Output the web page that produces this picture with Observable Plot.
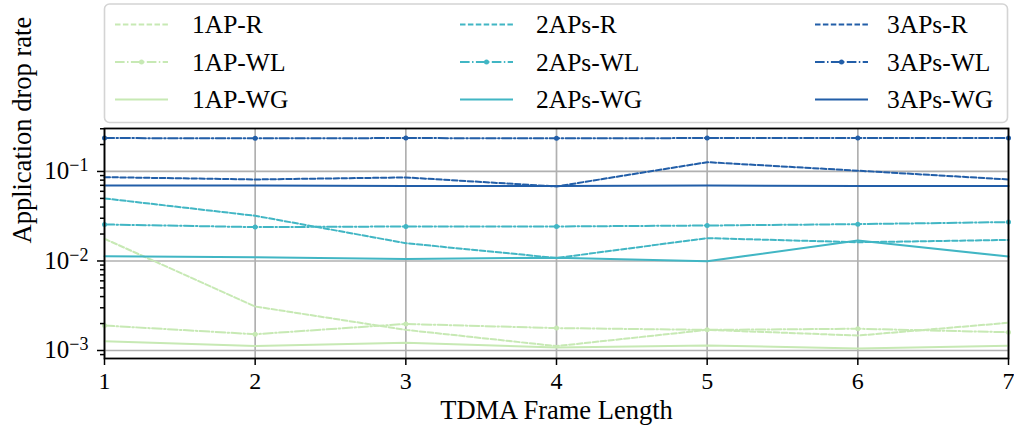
<!DOCTYPE html>
<html>
<head>
<meta charset="utf-8">
<script src="https://cdn.jsdelivr.net/npm/d3@7"></script>
<script src="https://cdn.jsdelivr.net/npm/@observablehq/plot@0.6"></script>
<style>
  html, body { margin: 0; padding: 0; background: white; }
  #wrap { width: 1014px; height: 434px; overflow: hidden; font-family: "Liberation Serif", "DejaVu Serif", serif; }
  #wrap svg { display: block; }
  #wrap svg text, #wrap svg tspan { font-family: "Liberation Serif", "DejaVu Serif", serif !important; }
</style>
</head>
<body>
<div id="wrap"></div>
<script>
// ---- data ----
const frameLengths = [1, 2, 3, 4, 5, 6, 7];
const seriesNames = ["1AP-R", "1AP-WL", "1AP-WG", "2APs-R", "2APs-WL", "2APs-WG", "3APs-R", "3APs-WL", "3APs-WG"];
const ap1R  = [0.0177, 0.0031, 0.0017, 0.00112, 0.0017, 0.00147, 0.00204];
const ap1WL = [0.0019, 0.00152, 0.00198, 0.00178, 0.0017, 0.00175, 0.0016];
const ap1WG = [0.00127, 0.00112, 0.00122, 0.00108, 0.00114, 0.00105, 0.00113];
const ap2R  = [0.050, 0.032, 0.0158, 0.0108, 0.018, 0.0162, 0.0172];
const ap2WL = [0.0256, 0.0239, 0.0243, 0.0243, 0.0249, 0.0258, 0.0272];
const ap2WG = [0.0113, 0.0110, 0.0105, 0.0109, 0.00996, 0.0169, 0.0112];
const ap3R  = [0.0864, 0.0814, 0.0858, 0.068, 0.127, 0.102, 0.0814];
const ap3WL = [0.236, 0.235, 0.236, 0.235, 0.236, 0.236, 0.236];
const ap3WG = [0.0698, 0.0698, 0.0686, 0.0690, 0.0698, 0.0686, 0.0686];
const yMajorTicks = [1e-3, 1e-2, 1e-1];
const yTickExps = ["\u22123", "\u22122", "\u22121"];
const xLabel = "TDMA Frame Length";
const yLabel = "Application drop rate";

// ---- styles ----
const colors = {"1AP": "#c7e9b4", "2APs": "#41b6c4", "3APs": "#225ea8"};
const dashes = {"R": "5.5,2.4", "WL": "9.6,2.4,1.5,2.4", "WG": null};
const allValues = [ap1R, ap1WL, ap1WG, ap2R, ap2WL, ap2WG, ap3R, ap3WL, ap3WG];

const table = [];
seriesNames.forEach((name, i) => {
  const [grp, kind] = name.split("-");
  frameLengths.forEach((x, j) => table.push({series: name, grp, kind, x, y: allValues[i][j]}));
});

const wrap = document.getElementById("wrap");

// ---- legend (above the plot) ----
const legendH = 124;
const lg = d3.create("svg").attr("width", 1014).attr("height", legendH)
  .attr("font-family", "Liberation Serif, DejaVu Serif, serif");
lg.append("rect").attr("x", 104.5).attr("y", 4).attr("width", 903).attr("height", 118.5)
  .attr("rx", 5).attr("fill", "white").attr("stroke", "#d4d4d4").attr("stroke-width", 1.6);
const colHandle = [115, 460, 815];
const colLabel = [192, 536, 887];
const rowY = [24.5, 62, 99.5];
seriesNames.forEach((name, i) => {
  const col = Math.floor(i / 3), row = i % 3;
  const [grp, kind] = name.split("-");
  const y = rowY[row];
  const l = lg.append("line").attr("x1", colHandle[col]).attr("x2", colHandle[col] + 53)
    .attr("y1", y).attr("y2", y).attr("stroke", colors[grp]).attr("stroke-width", 1.9);
  if (dashes[kind]) l.attr("stroke-dasharray", dashes[kind]);
  if (kind === "WL") lg.append("circle").attr("cx", colHandle[col] + 26.5).attr("cy", y).attr("r", 2.5).attr("fill", colors[grp]);
  lg.append("text").attr("x", colLabel[col]).attr("y", y).attr("dy", "0.35em")
    .attr("font-size", 25.5).attr("fill", "black").text(name);
});
wrap.appendChild(lg.node());

// ---- plot ----
const minorTicks = [];
for (const dec of [1e-4, 1e-3, 1e-2, 1e-1]) for (let k = 2; k <= 9; k++) {
  const v = k * dec; if (v > 0.000814 && v < 0.302) minorTicks.push(v);
}
const marks = [
  Plot.gridX(frameLengths, {stroke: "#b0b0b0", strokeOpacity: 1, strokeWidth: 1.7}),
  Plot.gridY(yMajorTicks, {stroke: "#b0b0b0", strokeOpacity: 1, strokeWidth: 1.7})
];
seriesNames.forEach(name => {
  const [grp, kind] = name.split("-");
  const data = table.filter(d => d.series === name);
  const opts = {x: "x", y: "y", stroke: colors[grp], strokeWidth: 2};
  if (dashes[kind]) opts.strokeDasharray = dashes[kind];
  marks.push(Plot.line(data, opts));
  if (kind === "WL") marks.push(Plot.dot(data, {x: "x", y: "y", r: 2.5, fill: colors[grp], stroke: "none"}));
});
marks.push(
  Plot.frame({stroke: "black", strokeWidth: 1.8}),
  Plot.axisX(frameLengths, {tickSize: 7, tickPadding: 6, tickFormat: d => String(d), label: null}),
  Plot.axisY(yMajorTicks, {tickSize: 7, tickPadding: 9, tickFormat: d => "10^" + yTickExps[yMajorTicks.indexOf(d)], label: null}),
  Plot.axisY(minorTicks, {tickSize: 4, tickFormat: () => "", label: null}),
  Plot.text([xLabel], {frameAnchor: "bottom", dy: 52, lineAnchor: "middle", fontSize: 26.5, text: d => d}),
  Plot.text([yLabel], {frameAnchor: "left", dx: -82, rotate: -90, lineAnchor: "middle", fontSize: 26.5, text: d => d})
);
const chart = Plot.plot({
  width: 1014, height: 434 - legendH,
  marginTop: 4, marginLeft: 104, marginRight: 6, marginBottom: 76,
  x: {domain: [1, 7]},
  y: {type: "log", domain: [0.000814, 0.302]},
  style: {fontFamily: "'Liberation Serif', 'DejaVu Serif', serif", color: "black", background: "white", overflow: "visible"},
  marks
});
// tick label styling + superscript exponents for y tick labels
d3.select(chart).selectAll("g[aria-label$='tick label'] text").each(function () {
  const sel = d3.select(this);
  sel.style("font-size", "24px").style("font-family", "'Liberation Serif', serif");
  const t = this.textContent;
  if (t.startsWith("10^")) {
    const exp = t.slice(3);
    sel.text(null);
    sel.append("tspan").style("font-size", "25px").text("10");
    sel.append("tspan").attr("dy", "-0.45em").style("font-size", "18px").text(exp);
  }
});
d3.select(chart).selectAll("g[aria-label$='tick label']").style("font-size", "24px");
d3.select(chart).selectAll("[aria-label$='tick'] path").attr("stroke-width", 1.5);
wrap.appendChild(chart);
</script>
</body>
</html>
